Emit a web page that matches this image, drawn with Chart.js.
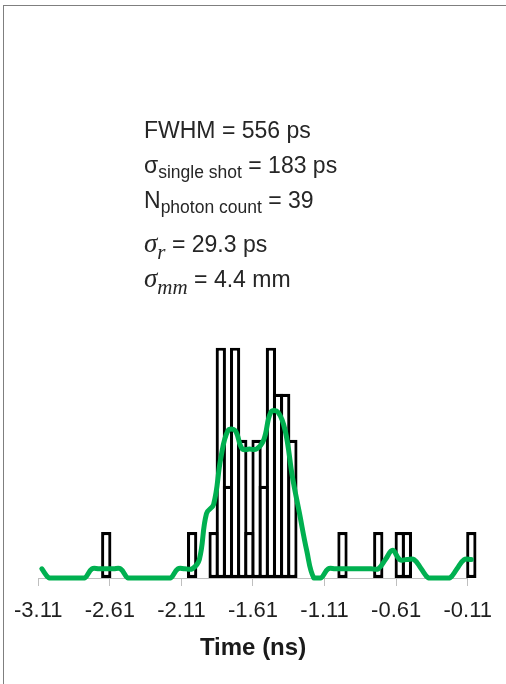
<!DOCTYPE html>
<html>
<head>
<meta charset="utf-8">
<script src="https://cdn.jsdelivr.net/npm/chart.js@4.4.1/dist/chart.umd.min.js"></script>
<style>
  html, body { margin: 0; padding: 0; background: #fff; }
  #wrap { position: relative; width: 506px; height: 684px; overflow: hidden; }
  #frame { position: absolute; left: 3px; top: 5px; width: 600px; height: 700px; border-left: 1px solid #7f7f7f; border-top: 1px solid #7f7f7f; }
  #chart { position: absolute; left: 0; top: 0; }
  .stats { position: absolute; left: 144px; font-family: 'Liberation Sans', Arial, sans-serif; font-size: 23px; line-height: 24px; color: #262626; white-space: nowrap; }
  .stats .sub { font-size: 17.5px; vertical-align: -5px; }
  .stats .math { font-family: 'Liberation Serif', serif; font-style: italic; font-size: 27px; }
  .stats .msub { font-family: 'Liberation Serif', serif; font-style: italic; font-size: 21px; vertical-align: -7px; }
</style>
</head>
<body>
<div id="wrap">
  <div id="frame"></div>
  <canvas id="chart" width="506" height="684"></canvas>
  <div class="stats" style="top:118px">FWHM = 556 ps</div>
  <div class="stats" style="top:153px">σ<span class="sub">single shot</span> = 183 ps</div>
  <div class="stats" style="top:188px">N<span class="sub">photon count</span> = 39</div>
  <div class="stats" style="top:231px"><span class="math">σ</span><span class="msub">r</span> = 29.3 ps</div>
  <div class="stats" style="top:266px"><span class="math">σ</span><span class="msub">mm</span> = 4.4 mm</div>
</div>
<script>
// left edge of each 50 ps bin (ns)
const binStart = [
  -3.11, -3.06, -3.01, -2.96, -2.91, -2.86, -2.81, -2.76, -2.71, -2.66,
  -2.61, -2.56, -2.51, -2.46, -2.41, -2.36, -2.31, -2.26, -2.21, -2.16,
  -2.11, -2.06, -2.01, -1.96, -1.91, -1.86, -1.81, -1.76, -1.71, -1.66,
  -1.61, -1.56, -1.51, -1.46, -1.41, -1.36, -1.31, -1.26, -1.21, -1.16,
  -1.11, -1.06, -1.01, -0.96, -0.91, -0.86, -0.81, -0.76, -0.71, -0.66,
  -0.61, -0.56, -0.51, -0.46, -0.41, -0.36, -0.31, -0.26, -0.21, -0.16,
  -0.11
];
const binWidth = 0.05;

// photon counts per bin
const counts = [
  0, 0, 0, 0, 0, 0, 0, 0, 0, 1,
  0, 0, 0, 0, 0, 0, 0, 0, 0, 0,
  0, 1, 0, 0, 1, 5, 2, 5, 3, 1,
  3, 2, 5, 4, 4, 3, 0, 0, 0, 0,
  0, 0, 1, 0, 0, 0, 0, 1, 0, 0,
  1, 1, 0, 0, 0, 0, 0, 0, 0, 0,
  1
];

// smoothed curve (green)
const smoothed = [
  0.2, 0, 0, 0, 0, 0, 0, 0.2, 0.2, 0.2,
  0.2, 0.2, 0, 0, 0, 0, 0, 0, 0, 0.2,
  0.2, 0.2, 0.4, 1.4, 1.6, 2.6, 3.2, 3.2, 2.8, 2.8,
  2.8, 3.0, 3.6, 3.6, 3.2, 2.2, 1.4, 0.6, 0, 0,
  0.2, 0.2, 0.2, 0.2, 0.2, 0.2, 0.2, 0.2, 0.4, 0.6,
  0.4, 0.4, 0.4, 0.2, 0, 0, 0, 0, 0.2, 0.4,
  0.4
];

const tickValues = [-3.11, -2.61, -2.11, -1.61, -1.11, -0.61, -0.11];
const tickLabels = ['-3.11', '-2.61', '-2.11', '-1.61', '-1.11', '-0.61', '-0.11'];

const centre = (i) => binStart[i] + binWidth / 2;

new Chart(document.getElementById('chart'), {
  type: 'bar',
  data: {
    datasets: [
      {
        type: 'line',
        order: 0,
        data: smoothed.map((v, i) => ({ x: centre(i), y: v })),
        borderColor: '#00b050',
        borderWidth: 5,
        pointRadius: 0,
        tension: 0.4,
        fill: false,
        borderCapStyle: 'round',
        borderJoinStyle: 'round',
        clip: false
      },
      {
        order: 1,
        data: counts.map((v, i) => ({ x: centre(i), y: v || null })),
        backgroundColor: '#ffffff',
        borderColor: '#000000',
        borderWidth: 3.2,
        borderSkipped: false,
        barPercentage: 1.44,
        categoryPercentage: 1,
        clip: false
      }
    ]
  },
  options: {
    responsive: false,
    animation: false,
    layout: { padding: { left: 34.7, right: 31.3, top: 301.6, bottom: 24 } },
    plugins: { legend: { display: false }, tooltip: { enabled: false } },
    scales: {
      x: {
        type: 'linear',
        min: -3.11,
        max: -0.11,
        offset: false,
        afterBuildTicks: (axis) => { axis.ticks = tickValues.map(v => ({ value: v })); },
        grid: { offset: false, drawOnChartArea: false, drawTicks: true, tickLength: 8, color: '#bfbfbf', lineWidth: 1 },
        border: { display: true, color: '#bfbfbf', width: 1 },
        ticks: {
          autoSkip: false,
          maxRotation: 0,
          padding: 14,
          color: '#1f1f1f',
          font: { family: "'Liberation Sans', Arial, sans-serif", size: 22, lineHeight: 1 },
          callback: (value, index) => tickLabels[index]
        },
        title: {
          display: true,
          text: 'Time (ns)',
          color: '#1a1a1a',
          padding: { top: 0, bottom: 0 },
          font: { family: "'Liberation Sans', Arial, sans-serif", size: 24, weight: 'bold', lineHeight: 1 }
        }
      },
      y: {
        display: false,
        min: 0,
        max: 6
      }
    }
  }
});
</script>
</body>
</html>
